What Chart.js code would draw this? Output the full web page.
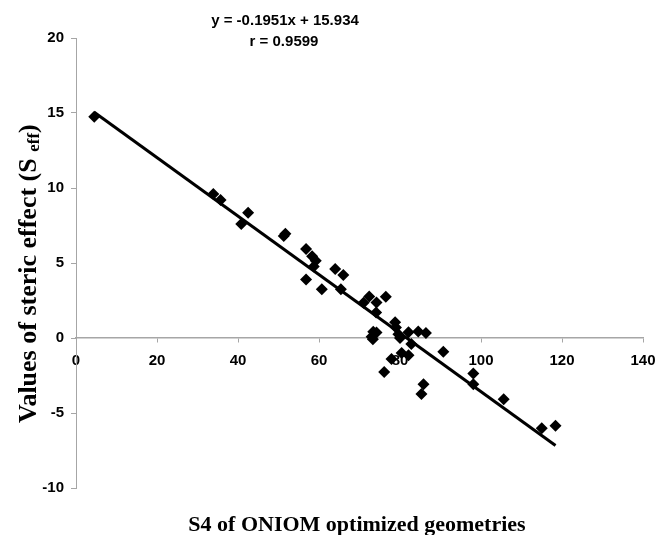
<!DOCTYPE html>
<html>
<head>
<meta charset="utf-8">
<script src="https://cdn.jsdelivr.net/npm/chart.js@4.4.1/dist/chart.umd.min.js"></script>
<style>
    body { margin: 0; background: #fff; }
    #wrap { width: 657px; height: 535px; position: relative; }
</style>
</head>
<body>
<div id="wrap"><canvas id="graphique"></canvas></div>
<script>
// S4 values (x) and steric effect Seff (y)
const s4 = [4.5, 33.9, 35.7, 42.5, 40.8, 51.3, 51.7, 56.8, 58.3, 59.2,
    58.7, 64.0, 66.0, 56.8, 60.7, 65.4, 71.0, 72.4, 74.2, 76.5,
    74.1, 73.4, 74.2, 73.0, 73.3, 78.8, 79.0, 79.6, 80.0, 82.1,
    84.5, 86.4, 82.8, 77.9, 80.4, 82.1, 90.7, 76.1, 85.8, 85.3,
    98.1, 98.1, 105.6, 115.0, 118.4];
const seff = [14.75, 9.6, 9.2, 8.35, 7.6, 6.8, 6.95, 5.93, 5.45, 5.15,
    4.76, 4.6, 4.2, 3.9, 3.25, 3.25, 2.35, 2.76, 2.36, 2.75,
    1.7, 0.42, 0.36, 0.08, -0.08, 1.05, 0.7, 0.25, 0.0, 0.38,
    0.44, 0.34, -0.4, -1.4, -1.0, -1.15, -0.91, -2.26, -3.09, -3.73,
    -2.36, -3.09, -4.09, -6.02, -5.85];

// trend line end points
const trendX = [4.5, 118.4];
const trendY = [15.05, -7.17];

const xTicks = [0, 20, 40, 60, 80, 100, 120, 140];
const yTicks = [-10, -5, 0, 5, 10, 15, 20];

const equation = 'y = -0.1951x + 15.934';
const correlation = 'r = 0.9599';

const sans = '"Liberation Sans", Arial, sans-serif';
const serif = '"Liberation Serif", "Times New Roman", serif';
const axisGrey = '#a6a6a6';

const titres = {
    id: 'titres',
    afterDraw(chart) {
        const ctx = chart.ctx;
        ctx.save();
        ctx.fillStyle = '#000';

        // equation + r
        ctx.font = 'bold 15px ' + sans;
        ctx.textAlign = 'center';
        ctx.textBaseline = 'alphabetic';
        ctx.fillText(equation, 285, 25);
        ctx.fillText(correlation, 284, 46);

        // x title
        ctx.font = 'bold 22px ' + serif;
        ctx.fillText('S4 of ONIOM optimized geometries', 357, 531);

        // y title with subscript
        ctx.translate(36, 423);
        ctx.rotate(-Math.PI / 2);
        ctx.textAlign = 'left';
        const big = 'bold 26px ' + serif;
        const small = 'bold 17px ' + serif;
        let x = 0;
        ctx.font = big;
        const part1 = 'Values of steric effect (S ';
        ctx.fillText(part1, x, 0);
        x += ctx.measureText(part1).width;
        ctx.font = small;
        ctx.fillText('eff', x, 3);
        x += ctx.measureText('eff').width;
        ctx.font = big;
        ctx.fillText(')', x, 0);
        ctx.restore();
    }
};

const points = s4.map((v, i) => ({ x: v, y: seff[i] }));
const tendance = trendX.map((v, i) => ({ x: v, y: trendY[i] }));

new Chart(document.getElementById('graphique'), {
    type: 'scatter',
    data: {
        datasets: [
            {
                label: 'Seff',
                data: points,
                pointStyle: 'rectRot',
                pointRadius: 6,
                pointBackgroundColor: '#000',
                pointBorderWidth: 0,
                borderColor: '#000'
            },
            {
                type: 'line',
                label: 'Tendance',
                data: tendance,
                borderColor: '#000',
                borderWidth: 3,
                pointRadius: 0,
                fill: false
            }
        ]
    },
    options: {
        responsive: true,
        maintainAspectRatio: false,
        animation: false,
        layout: { padding: { top: 38, right: 14, bottom: 47, left: 0 } },
        plugins: {
            legend: { display: false },
            tooltip: { enabled: false }
        },
        scales: {
            x: {
                type: 'linear',
                position: { y: 0 },
                min: 0,
                max: 140,
                afterBuildTicks: s => { s.ticks = xTicks.map(v => ({ value: v })); },
                afterFit: s => { s.paddingLeft = 0; s.paddingRight = 0; },
                ticks: { color: '#000', font: { family: sans, size: 15, weight: 'bold' }, padding: 10 },
                grid: { drawOnChartArea: false, drawTicks: true, tickLength: 4, color: axisGrey },
                border: { color: axisGrey, width: 1.5 }
            },
            y: {
                min: -10,
                max: 20,
                afterBuildTicks: s => { s.ticks = yTicks.map(v => ({ value: v })); },
                afterFit: s => { s.width = 76; s.paddingTop = 0; s.paddingBottom = 0; },
                ticks: { color: '#000', font: { family: sans, size: 15, weight: 'bold' }, padding: 7 },
                grid: { drawOnChartArea: false, drawTicks: true, tickLength: 5, color: axisGrey },
                border: { color: axisGrey, width: 1 }
            }
        }
    },
    plugins: [titres]
});
</script>
</body>
</html>
